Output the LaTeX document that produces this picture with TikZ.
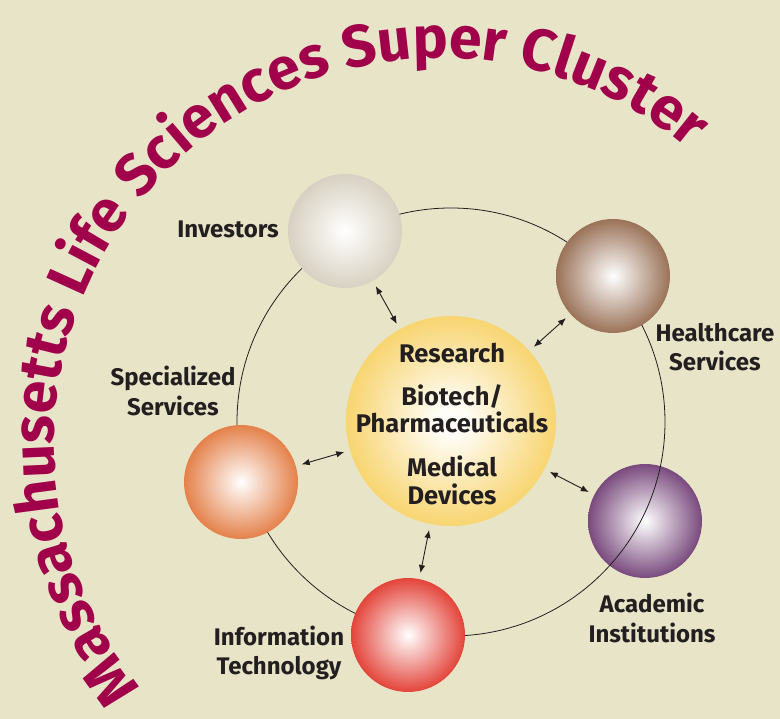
\documentclass[tikz,border=0pt]{standalone}
\usepackage{fontspec}
\setmainfont{Fira Sans}
\usetikzlibrary{arrows.meta,decorations.text}
\definecolor{bg}{HTML}{E8E4C7}
\definecolor{titlecol}{HTML}{A1004A}
\definecolor{invC}{HTML}{D8D1C2}
\definecolor{hcC}{HTML}{9A7258}
\definecolor{acC}{HTML}{794A7D}
\definecolor{itC}{HTML}{E3443A}
\definecolor{spC}{HTML}{E4814A}
\definecolor{coreC}{HTML}{F8D570}
\definecolor{txt}{HTML}{231F20}
\pgfdeclareradialshading{invS}{\pgfpointorigin}{color(0bp)=(white); color(25bp)=(invC); color(50bp)=(invC)}
\pgfdeclareradialshading{hcS}{\pgfpointorigin}{color(0bp)=(white); color(25bp)=(hcC); color(50bp)=(hcC)}
\pgfdeclareradialshading{acS}{\pgfpointorigin}{color(0bp)=(white); color(25bp)=(acC); color(50bp)=(acC)}
\pgfdeclareradialshading{itS}{\pgfpointorigin}{color(0bp)=(white); color(25bp)=(itC); color(50bp)=(itC)}
\pgfdeclareradialshading{spS}{\pgfpointorigin}{color(0bp)=(white); color(25bp)=(spC); color(50bp)=(spC)}
\pgfdeclareradialshading{coreS}{\pgfpointorigin}{color(0bp)=(white); color(4bp)=(white!92!coreC); color(25bp)=(coreC); color(50bp)=(coreC)}
\newfontfamily\labfam{Fira Sans}
\newcommand\labfont{\labfam\bfseries\fontsize{24}{29.5}\selectfont}
\newcommand\corefont{\labfam\bfseries\fontsize{25.5}{27.5}\selectfont}
\newcommand\titlefont{\labfam\bfseries\fontsize{59}{59}\selectfont}
\begin{document}
\begin{tikzpicture}[x=1pt,y=1pt,
  sphere/.style={circle, minimum size=114pt, inner sep=0pt, shade},
  lab/.style={font=\labfont, text=txt, align=center, inner sep=0pt},
  biarrow/.style={{Latex[length=8pt,width=6.5pt]}-{Latex[length=8pt,width=6.5pt]}, line width=0.9pt, draw=txt, shorten <=6pt, shorten >=6pt},
  ring/.style={draw=txt, line width=0.8pt}]
\fill[bg] (0,0) rectangle (780,719);
\useasboundingbox (0,0) rectangle (780,719);
% title along arc
\path[decorate, decoration={text along path, text align=center,
  text={|\titlefont\color{titlecol}|Massachusetts Life Sciences Super Cluster}}]
  (440,275) ++(229.5:386) arc[start angle=229.5, end angle=39.5, radius=386];
% academic sphere below the ring
\node[sphere, shading=acS] (acad) at (645,198) {};
% ring
\node[circle, minimum size=428pt, inner sep=0pt, ring] (ringc) at (451,297) {};
% other spheres
\node[sphere, shading=invS] (inv) at (345,488) {};
\node[sphere, shading=hcS] (hc) at (613,443) {};
\node[sphere, shading=itS] (it) at (408,84) {};
\node[sphere, shading=spS] (sp) at (241,237) {};
% core
\node[circle, minimum size=210pt, inner sep=0pt, shade, shading=coreS] (core) at (451,298) {};
\node[font=\corefont, text=txt, align=center, inner sep=0pt] (coretext) at (452,295)
  {Research\\[15.5pt]Biotech/\\Pharmaceuticals\\[16.5pt]Medical\\Devices};
% arrows
\draw[biarrow] (inv) -- (core);
\draw[biarrow] (hc) -- (core);
\draw[biarrow] (acad) -- (core);
\draw[biarrow] (it) -- (core);
\draw[biarrow] (sp) -- (core);
% labels
\node[lab] (linv) at (228,490) {Investors};
\node[lab] (lhc) at (715,372) {Healthcare\\Services};
\node[lab] (lsp) at (173,328) {Specialized\\Services};
\node[lab] (lit) at (279,66) {Information\\Technology};
\node[lab] (lac) at (652,101) {Academic\\Institutions};
\end{tikzpicture}
\end{document}
